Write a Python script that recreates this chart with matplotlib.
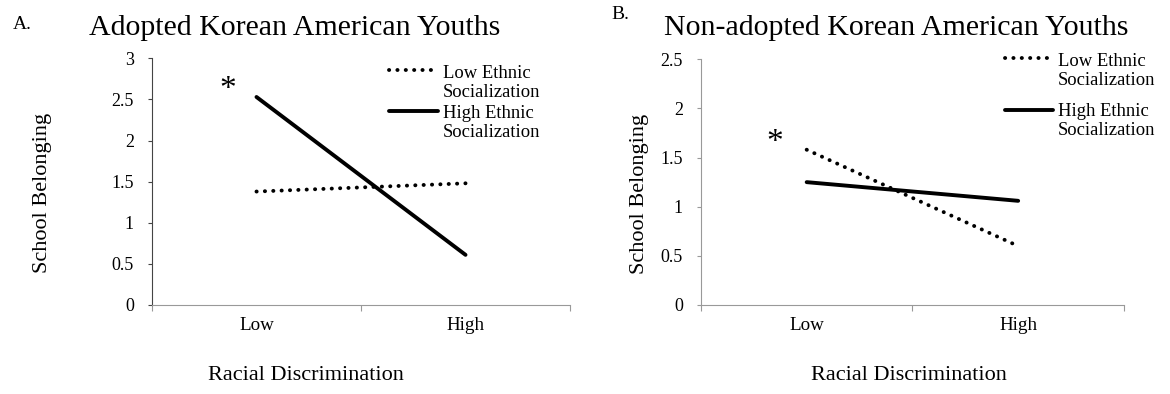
import matplotlib
matplotlib.use('Agg')
import matplotlib.pyplot as plt

categories = ['Low', 'High']

# panel A: adopted youths
adopted_low_es = [1.38, 1.48]
adopted_high_es = [2.53, 0.61]
# panel B: non-adopted youths
nonadopted_low_es = [1.58, 0.60]
nonadopted_high_es = [1.25, 1.06]

labels = ['Low Ethnic\nSocialization', 'High Ethnic\nSocialization']

plt.rcParams['font.family'] = 'Liberation Serif'

fig = plt.figure(figsize=(11.7, 3.94), dpi=100)
axA = fig.add_axes([0.1299, 0.2259, 0.3573, 0.626])
axB = fig.add_axes([0.5991, 0.2259, 0.3615, 0.6236])

x = [0.5, 1.5]
dotted = dict(color='black', lw=2.8, linestyle=(0, (0.05, 2.1)), dash_capstyle='round')
solid = dict(color='black', lw=2.8, solid_capstyle='round')


def setup(ax, ymax, yticks, ycolor, ylab_x, xlab_x):
    ax.set_xlim(0, 2)
    ax.set_ylim(0, ymax)
    for s in ['top', 'right']:
        ax.spines[s].set_visible(False)
    ax.spines['bottom'].set_color('#999999')
    ax.spines['left'].set_color(ycolor)
    ax.set_xticks([0, 1, 2])
    ax.set_xticklabels([])
    ax.set_xticks(x, minor=True)
    ax.set_xticklabels(categories, minor=True, fontsize=13.7)
    ax.tick_params(axis='x', which='major', length=4, color='#999999', direction='out')
    ax.tick_params(axis='x', which='minor', length=0, pad=9)
    ax.set_yticks(yticks)
    ax.set_yticklabels([('%g' % t) for t in yticks], fontsize=13)
    ax.tick_params(axis='y', length=3, color=ycolor, pad=10)
    ax.set_xlabel('Racial Discrimination', fontsize=16)
    ax.xaxis.label.set_va('center')
    ax.xaxis.set_label_coords(xlab_x, -0.285)
    ax.set_ylabel('School Belonging', fontsize=16)
    ax.yaxis.label.set_va('center')
    ax.yaxis.set_label_coords(ylab_x, 0.454)


def legend(ax, x0, x1, xt, ys):
    styles = [dotted, solid]
    for (yh, yt), lab, st in zip(ys, labels, styles):
        ax.plot([x0, x1], [yh, yh], transform=ax.transAxes, clip_on=False, **st)
        ax.text(xt, yt, lab, transform=ax.transAxes, fontsize=13.4,
                ha='left', va='top', linespacing=1.2)


setup(axA, 3, [0, 0.5, 1, 1.5, 2, 2.5, 3], '#444444', -0.262, 0.368)
setup(axB, 2.5, [0, 0.5, 1, 1.5, 2, 2.5], '#999999', -0.145, 0.492)

axA.plot(x, adopted_low_es, **dotted)
axA.plot(x, adopted_high_es, **solid)
axB.plot(x, nonadopted_low_es, **dotted)
axB.plot(x, nonadopted_high_es, **solid)

axA.text(0.364, 2.62, '*', fontsize=24, ha='center', va='center')
axB.text(0.35, 1.65, '*', fontsize=24, ha='center', va='center')

legend(axA, 0.567, 0.684, 0.696, [(0.953, 0.944 + 0.03), (0.786, 0.782 + 0.03)])
legend(axB, 0.719, 0.832, 0.844, [(1.005, 0.997 + 0.03), (0.794, 0.794 + 0.03)])

fig.text(0.252, 0.930, 'Adopted Korean American Youths', fontsize=21.5, ha='center', va='center')
fig.text(0.766, 0.930, 'Non-adopted Korean American Youths', fontsize=21.5, ha='center', va='center')
fig.text(0.0192, 0.939, 'A.', fontsize=14, ha='center', va='center')
fig.text(0.530, 0.963, 'B.', fontsize=14, ha='center', va='center')

fig.savefig('out.png', dpi=100)
